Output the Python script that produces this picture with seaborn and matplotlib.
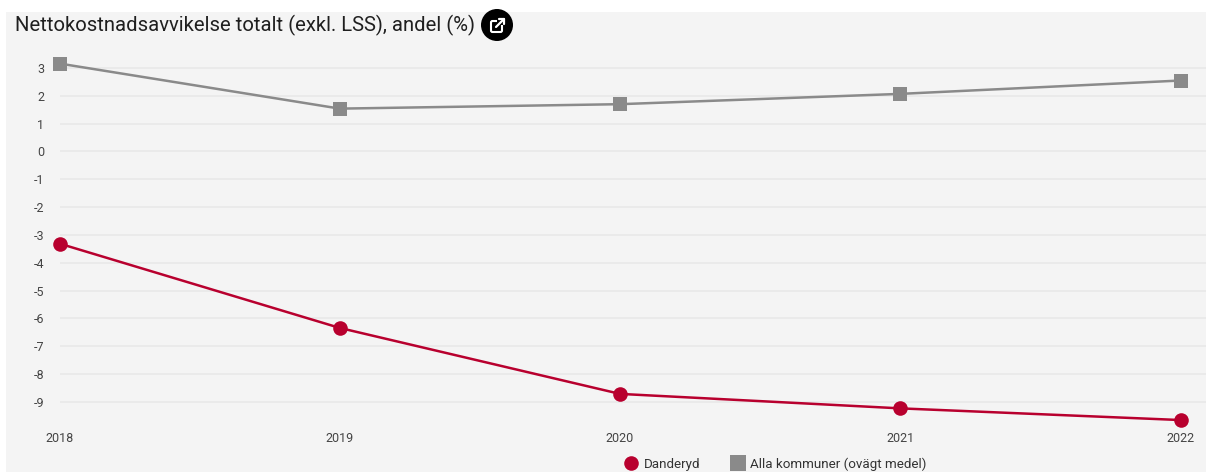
import matplotlib
matplotlib.use("Agg")
import matplotlib.pyplot as plt
from matplotlib.lines import Line2D
from matplotlib.patches import Rectangle, Circle, FancyBboxPatch
import pandas as pd
import seaborn as sns

years = [2018, 2019, 2020, 2021, 2022]
danderyd = [-3.31, -6.34, -8.71, -9.23, -9.65]
alla = [3.16, 1.54, 1.70, 2.07, 2.55]
yticks = [3, 2, 1, 0, -1, -2, -3, -4, -5, -6, -7, -8, -9]
names = ["Danderyd", "Alla kommuner (ovägt medel)"]
title = "Nettokostnadsavvikelse totalt (exkl. LSS), andel (%)"

RED = "#b8002e"
GREY = "#8a8a8a"
W, H = 1206, 472

sns.set_theme(style="white")
plt.rcParams["font.family"] = ["Roboto", "DejaVu Sans"]

df = pd.DataFrame({
    "year": years * 2,
    "value": danderyd + alla,
    "series": [names[0]] * 5 + [names[1]] * 5,
})

fig = plt.figure(figsize=(W / 100, H / 100), dpi=100, facecolor="white")

bg = fig.add_axes([0, 0, 1, 1], zorder=0)
bg.set_xlim(0, W); bg.set_ylim(H, 0); bg.axis("off")
bg.add_patch(Rectangle((6, 12), W - 6, H - 12, fc="#f4f4f4", ec="none"))

px_top, px_bot = 40, 431
px_left, px_right = 59.5, 1180.5
def val(p):
    return 3 - (p - 68) / 27.83
ax = fig.add_axes([px_left / W, 1 - px_bot / H, (px_right - px_left) / W, (px_bot - px_top) / H], zorder=1)
ax.patch.set_alpha(0)
ax.hlines(yticks, 0, (W - px_left) / (px_right - px_left), transform=ax.get_yaxis_transform(),
          colors="#eaeaea", linewidth=1.4, clip_on=False, zorder=1)
sns.lineplot(data=df, x="year", y="value", hue="series", style="series",
             hue_order=names, style_order=names,
             palette={names[0]: RED, names[1]: GREY},
             markers={names[0]: "o", names[1]: "s"}, dashes=False,
             markersize=10.5, markeredgewidth=0, linewidth=1.8, legend=False,
             clip_on=False, ax=ax, zorder=3)
ax.set_xlim(2018, 2022)
ax.set_ylim(val(px_bot), val(px_top))
ax.set_xticks(years)
ax.set_xticklabels([str(y) for y in years], fontsize=9, color="#444444")
ax.set_yticks(yticks)
ax.set_yticklabels([str(t) for t in yticks], fontsize=9, color="#444444")
ax.tick_params(axis="both", length=0)
ax.tick_params(axis="x", pad=1)
ax.tick_params(axis="y", pad=11)
ax.set_xlabel(""); ax.set_ylabel("")
for s in ax.spines.values():
    s.set_visible(False)

fig.text(15 / W, 1 - 25 / H, title, fontsize=14.55, color="#1f1f1f", va="center", ha="left")

# link icon
bg.add_patch(Circle((497, 25), 16, fc="black", ec="none", zorder=3))
bg.add_patch(FancyBboxPatch((491, 21), 11, 11, boxstyle="round,pad=0,rounding_size=1.5",
                            fc="none", ec="white", lw=1.5, zorder=4))
bg.add_patch(Rectangle((497, 17), 9, 8, fc="black", ec="none", zorder=4))
bg.plot([496, 504], [27, 19], color="white", lw=1.6, zorder=5)
bg.plot([499, 504, 504], [19, 19, 24], color="white", lw=1.6, zorder=5)

handles = [
    Line2D([], [], marker="o", color=RED, ls="none", ms=10.5, mew=0, label=names[0]),
    Line2D([], [], marker="s", color=GREY, ls="none", ms=11, mew=0, label=names[1]),
]
fig.legend(handles=handles, loc="center left", bbox_to_anchor=(623 / W, 1 - 464 / H),
           ncol=2, frameon=False, fontsize=9.6, labelcolor="#333333",
           handlelength=1.2, handletextpad=0.35, columnspacing=2.2, borderpad=0, borderaxespad=0)

fig.savefig("out.png", dpi=100, facecolor="white")
